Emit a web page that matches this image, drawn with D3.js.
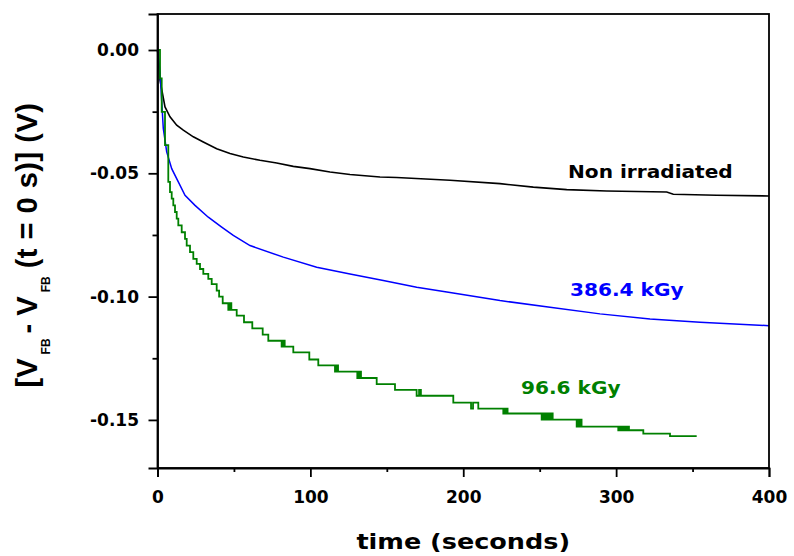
<!DOCTYPE html>
<html>
<head>
<meta charset="utf-8">
<script src="https://cdn.jsdelivr.net/npm/d3@7"></script>
<style>
  body { margin: 0; background: #fff; }
  svg text { font-family: "DejaVu Sans", sans-serif; font-weight: bold; }
  .axis path, .axis line { stroke: #000; stroke-width: 1.8; }
  .curve { fill: none; }
</style>
</head>
<body>
<div id="chart"></div>
<script>
// values: time in seconds, shift in volts
var blackTime = [0, 1.64, 4.91, 8.18, 12.56, 16.88, 23.42, 29.96, 38.72, 47.42, 56.12, 67.05, 77.97,
  88.83, 99.75, 112.84, 125.92, 145.54, 156.46, 191.33, 224.04, 245.82, 267.67, 293.83, 333.08,
  337.4, 365.79, 400];
var blackVolt = [0, -0.0122, -0.0231, -0.0271, -0.0305, -0.0325, -0.0352, -0.0373, -0.0400, -0.0420,
  -0.0434, -0.0447, -0.0458, -0.0472, -0.0481, -0.0495, -0.0505, -0.0515, -0.0517, -0.0528, -0.0542,
  -0.0556, -0.0566, -0.0572, -0.0576, -0.0585, -0.0589, -0.0592];

var blueTime = [0, 1.64, 3.79, 6.02, 9.29, 13.61, 17.99, 24.53, 33.23, 41.99, 49.58, 60.51, 82.29,
  104.14, 125.92, 147.7, 169.55, 191.33, 224.04, 256.75, 289.45, 322.16, 354.87, 400];
var blueVolt = [0, -0.0088, -0.0318, -0.0413, -0.0481, -0.0535, -0.0589, -0.0630, -0.0678, -0.0718,
  -0.0752, -0.0793, -0.0840, -0.0881, -0.0908, -0.0935, -0.0962, -0.0983, -0.1016, -0.1043, -0.1070,
  -0.1091, -0.1104, -0.1118];

// 96.6 kGy trace is a staircase (quantised readout), with a few jittery spots
var greenTime = [0, 1.64, 2.75, 4.9, 7.06, 8.18, 9.29, 10.34, 11.45, 12.56, 13.61, 15.83, 17.99, 19.1,
  21.26, 23.42, 25.64, 27.8, 29.96, 33.23, 35.45, 38.72, 40.3, 42.65,
  46.31, 47.0, 47.4, 47.9, 48.3,
  51.81, 56.58, 62.01, 68.81, 72.48,
  81.2, 81.7, 82.2, 82.7, 83.2,
  88.83, 99.3, 105.18,
  116.1, 116.6, 117.1, 117.6, 118.1,
  130.7, 131.3, 131.9, 132.5, 133.1,
  143.38, 155.35,
  169.5, 171.1, 172.3,
  193.49, 205.1, 206.4, 209.84,
  226.2, 226.9, 227.6, 228.3, 229.0,
  251.3, 252.2, 253.1, 254.0, 254.9, 255.8, 256.7, 257.6, 258.5,
  274.2, 275.0, 275.8, 276.6, 277.4,
  301.4, 302.3, 303.2, 304.1, 305.0, 305.9, 306.8, 307.7, 308.4,
  317.78, 335.24, 352.7];
var greenVolt = [0, -0.0115, -0.0251, -0.0386, -0.0535, -0.0576, -0.0603, -0.0630, -0.0657, -0.0684,
  -0.0711, -0.0739, -0.0766, -0.0793, -0.0820, -0.0847, -0.0867, -0.0888, -0.0908, -0.0928, -0.0949,
  -0.0976, -0.1000, -0.1027,
  -0.1054, -0.1027, -0.1054, -0.1027, -0.1054,
  -0.1077, -0.1104, -0.1129, -0.1154, -0.1179,
  -0.1203, -0.1179, -0.1203, -0.1179, -0.1203,
  -0.1226, -0.1255, -0.1279,
  -0.1304, -0.1279, -0.1304, -0.1279, -0.1304,
  -0.1330, -0.1304, -0.1330, -0.1304, -0.1330,
  -0.1355, -0.1378,
  -0.1402, -0.1378, -0.1402,
  -0.1430, -0.1454, -0.1430, -0.1454,
  -0.1474, -0.1454, -0.1474, -0.1454, -0.1474,
  -0.1499, -0.1474, -0.1499, -0.1474, -0.1499, -0.1474, -0.1499, -0.1474, -0.1499,
  -0.1527, -0.1499, -0.1527, -0.1499, -0.1527,
  -0.1542, -0.1527, -0.1542, -0.1527, -0.1542, -0.1527, -0.1542, -0.1527, -0.1542,
  -0.1556, -0.1566, -0.1566];

var xMajor = [0, 100, 200, 300, 400];
var xMinor = [50, 150, 250, 350];
var yMajor = [0, -0.05, -0.10, -0.15];
var yMinor = [-0.025, -0.075, -0.125];

var seriesNames = ['Non irradiated', '386.4 kGy', '96.6 kGy'];
var seriesColors = ['#000000', '#0000ff', '#008000'];

var width = 794, height = 556;
var plot = { left: 157.5, right: 769, top: 14, bottom: 468 };

var svg = d3.select('#chart').append('svg')
    .attr('width', width)
    .attr('height', height);

var x = d3.scaleLinear().domain([0, 400]).range([plot.left, plot.right]);
var y = d3.scaleLinear().domain([-0.1695, 0.0146]).range([plot.bottom, plot.top]);

function zip(ts, vs) {
  return ts.map(function(t, i) { return { t: t, v: vs[i] }; });
}

var smoothLine = d3.line()
    .x(function(d) { return x(d.t); })
    .y(function(d) { return y(d.v); });

var stepLine = d3.line()
    .curve(d3.curveStepAfter)
    .x(function(d) { return x(d.t); })
    .y(function(d) { return y(d.v); });

svg.append('path')
    .datum(zip(blackTime, blackVolt))
    .attr('class', 'curve')
    .attr('stroke', seriesColors[0])
    .attr('stroke-width', 1.6)
    .attr('d', smoothLine);

svg.append('path')
    .datum(zip(blueTime, blueVolt))
    .attr('class', 'curve')
    .attr('stroke', seriesColors[1])
    .attr('stroke-width', 1.5)
    .attr('d', smoothLine);

svg.append('path')
    .datum(zip(greenTime, greenVolt))
    .attr('class', 'curve')
    .attr('stroke', seriesColors[2])
    .attr('stroke-width', 1.8)
    .attr('d', stepLine);

// frame
svg.append('rect')
    .attr('x', plot.left)
    .attr('y', plot.top)
    .attr('width', plot.right - plot.left)
    .attr('height', plot.bottom - plot.top)
    .attr('fill', 'none')
    .attr('stroke', '#000')
    .attr('stroke-width', 1.8);

// y axis
svg.append('g')
    .attr('class', 'axis')
    .attr('transform', 'translate(' + plot.left + ',0)')
    .call(d3.axisLeft(y).tickValues(yMajor).tickSize(9).tickPadding(9.5)
      .tickFormat(function(d) { return d.toFixed(2); }))
    .call(function(g) {
      g.selectAll('text').attr('font-size', 17).attr('fill', '#000')
        .style('font-family', '"DejaVu Sans", sans-serif').style('font-weight', 'bold');
    });

svg.append('g')
    .attr('class', 'axis')
    .attr('transform', 'translate(' + plot.left + ',0)')
    .call(d3.axisLeft(y).tickValues(yMinor).tickSize(5).tickFormat(''))
    .call(function(g) { g.select('.domain').remove(); });

// x axis
svg.append('g')
    .attr('class', 'axis')
    .attr('transform', 'translate(0,' + plot.bottom + ')')
    .call(d3.axisBottom(x).tickValues(xMajor).tickSize(9).tickPadding(14)
      .tickFormat(d3.format('d')))
    .call(function(g) {
      g.selectAll('text').attr('font-size', 17).attr('fill', '#000')
        .style('font-family', '"DejaVu Sans", sans-serif').style('font-weight', 'bold');
    });

svg.append('g')
    .attr('class', 'axis')
    .attr('transform', 'translate(0,' + plot.bottom + ')')
    .call(d3.axisBottom(x).tickValues(xMinor).tickSize(4).tickFormat(''))
    .call(function(g) { g.select('.domain').remove(); });

// curve labels (the original lettering is a bit wider than DejaVu bold)
var labelPos = [[568, 178], [570, 296], [521, 394]];
svg.selectAll('.curve-label')
    .data(seriesNames)
    .enter().append('text')
    .attr('class', 'curve-label')
    .attr('transform', function(d, i) {
      return 'translate(' + labelPos[i][0] + ',' + labelPos[i][1] + ') scale(1.15,1)';
    })
    .attr('font-size', 17.5)
    .attr('fill', function(d, i) { return seriesColors[i]; })
    .text(function(d) { return d; });

// axis titles
svg.append('text')
    .attr('transform', 'translate(' + ((plot.left + plot.right) / 2) + ',549) scale(1.16,1)')
    .attr('text-anchor', 'middle')
    .attr('font-size', 22)
    .text('time (seconds)');

var yTitle = svg.append('text')
    .attr('transform', 'translate(37,245) rotate(-90)')
    .attr('text-anchor', 'middle')
    .style('font-family', '"Liberation Sans", Arial, sans-serif')
    .attr('font-size', 29);

yTitle.append('tspan').text('[V');
yTitle.append('tspan').attr('font-size', 12).attr('dy', 13).attr('dx', 4).text('FB');
yTitle.append('tspan').attr('dy', -13).attr('dx', 5).text('- V');
yTitle.append('tspan').attr('font-size', 12).attr('dy', 13).attr('dx', 4).text('FB');
yTitle.append('tspan').attr('dy', -13).attr('dx', 8).attr('letter-spacing', 0.5).text('(t = 0 s)] (V)');
</script>
</body>
</html>
